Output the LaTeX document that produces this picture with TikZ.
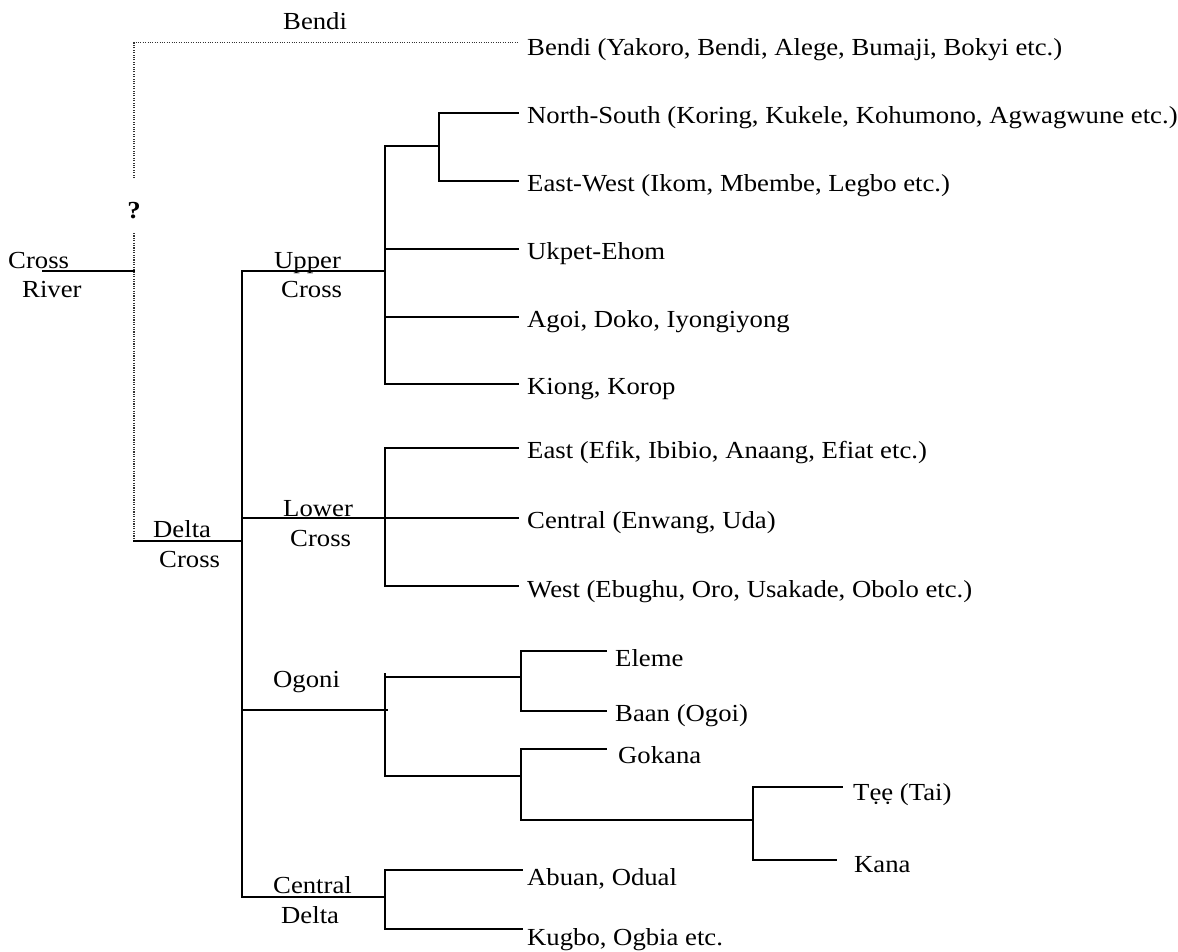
\documentclass[tikz,border=0pt]{standalone}
\usepackage{fontspec}
\setmainfont{Liberation Serif}[FakeStretch=1.09]
\begin{document}
\begin{tikzpicture}[x=1pt,y=-1pt,
  br/.style={line width=1.5pt,line cap=rect},
  dot/.style={line width=1.1pt,dash pattern=on 1.1pt off 1.3pt,black!80},
  lab/.style={inner sep=0pt,anchor=base west,font=\fontsize{24.5}{28}\selectfont}]
\useasboundingbox (0,0) rectangle (1178,951);
% ---------- labels (internal) ----------
\node[lab] (lBendi) at (283,29) {Bendi};
\node[lab] (lCross) at (8,268) {Cross};
\node[lab] (lRiver) at (22,297) {River};
\node[lab,anchor=base] (lQ) at (134,218) {\textbf{?}};
\node[lab] (lUpper) at (274,268) {Upper};
\node[lab] (lUpperC) at (281,297) {Cross};
\node[lab] (lDelta) at (153,537) {Delta};
\node[lab] (lDeltaC) at (159,567) {Cross};
\node[lab] (lLower) at (283,516) {Lower};
\node[lab] (lLowerC) at (290,546) {Cross};
\node[lab] (lOgoni) at (273,687) {Ogoni};
\node[lab] (lCentral) at (273,893) {Central};
\node[lab] (lCDelta) at (281,923) {Delta};
% ---------- leaves ----------
\node[lab] (tBendi) at (527,55) {Bendi (Yakoro, Bendi, Alege, Bumaji, Bokyi etc.)};
\node[lab] (tNS) at (527,123) {North-South (Koring, Kukele, Kohumono, Agwagwune etc.)};
\node[lab] (tEW) at (527,191) {East-West (Ikom, Mbembe, Legbo etc.)};
\node[lab] (tUk) at (527,259) {Ukpet-Ehom};
\node[lab] (tAg) at (527,327) {Agoi, Doko, Iyongiyong};
\node[lab] (tKi) at (527,394) {Kiong, Korop};
\node[lab] (tEa) at (527,458) {East (Efik, Ibibio, Anaang, Efiat etc.)};
\node[lab] (tCe) at (527,528) {Central (Enwang, Uda)};
\node[lab] (tWe) at (527,597) {West (Ebughu, Oro, Usakade, Obolo etc.)};
\node[lab] (tEl) at (615,666) {Eleme};
\node[lab] (tBa) at (615,721) {Baan (Ogoi)};
\node[lab] (tGo) at (618,763) {Gokana};
\node[lab] (tTe) at (853,800) {Tẹẹ (Tai)};
\node[lab] (tKa) at (854,872) {Kana};
\node[lab] (tAb) at (527,885) {Abuan, Odual};
\node[lab] (tKu) at (527,945) {Kugbo, Ogbia etc.};
% ---------- coordinates ----------
\coordinate (cr0) at (43,271);
\coordinate (cr) at (134,271);
\coordinate (bTop) at (134,42.7);
\coordinate (bEnd) at (518,42.7);
\coordinate (qUp) at (134,178);
\coordinate (qDn) at (134,233);
\coordinate (dc) at (134,541);
\coordinate (dcJ) at (242,541);
\coordinate (mTop) at (242,271);
\coordinate (mBot) at (242,897);
\coordinate (uc) at (385,271);
\coordinate (ucTop) at (385,146);
\coordinate (ucBot) at (385,384);
\coordinate (ns) at (439,146);
\coordinate (nsT) at (439,113);
\coordinate (nsB) at (439,181);
\coordinate (eNS) at (518,113);
\coordinate (eEW) at (518,181);
\coordinate (uk0) at (385,249);
\coordinate (eUk) at (518,249);
\coordinate (ag0) at (385,317);
\coordinate (eAg) at (518,317);
\coordinate (eKi) at (518,384);
\coordinate (lc0) at (242,518);
\coordinate (lc) at (385,518);
\coordinate (lcTop) at (385,448);
\coordinate (lcBot) at (385,586);
\coordinate (eEa) at (518,448);
\coordinate (eCe) at (518,518);
\coordinate (eWe) at (518,586);
\coordinate (og0) at (242,710);
\coordinate (og) at (387,710);
\coordinate (ogTop) at (385,674);
\coordinate (ogBot) at (385,776);
\coordinate (og1) at (385,677);
\coordinate (el) at (521,677);
\coordinate (elT) at (521,651);
\coordinate (elB) at (521,711);
\coordinate (eEl) at (606,651);
\coordinate (eBa) at (606,711);
\coordinate (go) at (521,776);
\coordinate (goT) at (521,749);
\coordinate (goB) at (521,820);
\coordinate (eGo) at (606,749);
\coordinate (tk) at (753,820);
\coordinate (tkT) at (753,787);
\coordinate (tkB) at (753,860);
\coordinate (eTe) at (842,787);
\coordinate (eKa) at (836,860);
\coordinate (cd) at (385,897);
\coordinate (cdT) at (385,870);
\coordinate (cdB) at (385,929);
\coordinate (eAb) at (522,870);
\coordinate (eKu) at (522,929);
% ---------- dotted Bendi link ----------
\draw[dot] (qUp) -- (bTop) -- (bEnd);
\draw[dot] (qDn) -- (dc);
% ---------- tree ----------
\draw[br] (cr0) -- (cr);
\draw[br] (dc) -- (dcJ);
\draw[br] (mTop) -- (mBot);
\draw[br] (mTop) -- (uc);
\draw[br] (ucTop) -- (ucBot);
\draw[br] (ucTop) -- (ns);
\draw[br] (eNS) -- (nsT) -- (nsB) -- (eEW);
\draw[br] (uk0) -- (eUk);
\draw[br] (ag0) -- (eAg);
\draw[br] (ucBot) -- (eKi);
\draw[br] (lc0) -- (lc);
\draw[br] (eEa) -- (lcTop) -- (lcBot) -- (eWe);
\draw[br] (lc) -- (eCe);
\draw[br] (og0) -- (og);
\draw[br] (ogTop) -- (ogBot) -- (go);
\draw[br] (og1) -- (el);
\draw[br] (eEl) -- (elT) -- (elB) -- (eBa);
\draw[br] (eGo) -- (goT) -- (goB) -- (tk);
\draw[br] (eTe) -- (tkT) -- (tkB) -- (eKa);
\draw[br] (mBot) -- (cd);
\draw[br] (eAb) -- (cdT) -- (cdB) -- (eKu);
\end{tikzpicture}
\end{document}
